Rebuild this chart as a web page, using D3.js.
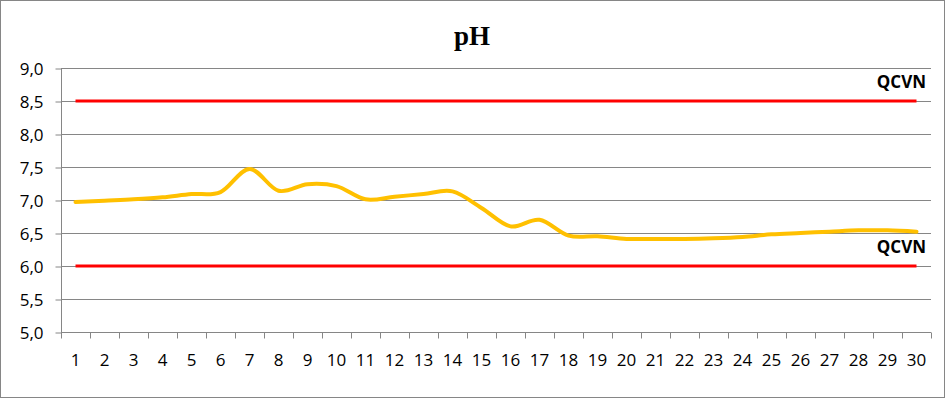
<!DOCTYPE html>
<html>
<head>
<meta charset="utf-8">
<script src="https://cdn.jsdelivr.net/npm/d3@7"></script>
<style>
  html, body { margin: 0; padding: 0; background: #fff; overflow: hidden; }
  svg { display: block; }
  text { font-family: "Open Sans", "Noto Sans", sans-serif; }
</style>
</head>
<body>
<div id="chart"></div>
<script>
const days = d3.range(1, 31);
const phValues = [6.97, 6.99, 7.01, 7.04, 7.09, 7.12, 7.47, 7.14, 7.24, 7.21,
  7.01, 7.05, 7.09, 7.13, 6.88, 6.60, 6.70, 6.46, 6.45, 6.41,
  6.41, 6.41, 6.42, 6.44, 6.48, 6.50, 6.52, 6.54, 6.54, 6.52];
const qcvnMax = 8.5;
const qcvnMin = 6.0;
const yTicks = [5.0, 5.5, 6.0, 6.5, 7.0, 7.5, 8.0, 8.5, 9.0];

const width = 945, height = 398;
const margin = {top: 68, right: 14, bottom: 66, left: 61};
const innerWidth = 931 - margin.left;
const innerHeight = 332 - margin.top;

const svg = d3.select("#chart").append("svg")
    .attr("width", width)
    .attr("height", height);

svg.append("rect")
    .attr("x", 0.5).attr("y", 0.5)
    .attr("width", width - 1).attr("height", height - 1)
    .attr("fill", "#fff")
    .attr("stroke", "#868686");

svg.append("text")
    .attr("x", 472).attr("y", 45)
    .attr("text-anchor", "middle")
    .style("font-family", "'Liberation Serif', serif")
    .style("font-weight", "bold")
    .style("font-size", "27px")
    .text("pH");

const g = svg.append("g")
    .attr("transform", "translate(" + margin.left + "," + margin.top + ")");

const xScale = d3.scaleBand().domain(days).range([0, innerWidth]);
const yScale = d3.scaleLinear().domain([5, 9]).range([innerHeight, 0]);
const xMid = d => xScale(d) + xScale.bandwidth() / 2;

// gridlines
g.selectAll(".grid").data(yTicks.slice(1)).enter().append("line")
    .attr("class", "grid")
    .attr("x1", 0).attr("x2", innerWidth)
    .attr("y1", d => Math.round(yScale(d)) + 0.5)
    .attr("y2", d => Math.round(yScale(d)) + 0.5)
    .attr("stroke", "#868686");

// y axis
const yAxis = g.append("g")
    .attr("transform", "translate(0.5,0.5)")
    .call(d3.axisLeft(yScale).tickValues(yTicks).tickSize(6).tickPadding(12)
      .tickFormat(d => d3.format(".1f")(d).replace(".", ",")));
yAxis.attr("font-family", null).attr("font-size", null);
yAxis.select(".domain").attr("stroke", "#868686").attr("d", "M0," + innerHeight + "V0");
yAxis.selectAll(".tick line").attr("stroke", "#868686");
yAxis.selectAll("text").style("font-size", "17px").attr("fill", "#000").attr("dy", "0.36em");

// x axis
const xAxis = g.append("g")
    .attr("transform", "translate(0," + (innerHeight + 0.5) + ")");
xAxis.append("line")
    .attr("x1", 0).attr("x2", innerWidth)
    .attr("stroke", "#868686");
xAxis.selectAll(".xtick").data(d3.range(0, 31)).enter().append("line")
    .attr("x1", i => Math.round(i * xScale.step()) + 0.5)
    .attr("x2", i => Math.round(i * xScale.step()) + 0.5)
    .attr("y1", 0).attr("y2", 6)
    .attr("stroke", "#868686");
xAxis.selectAll(".xlabel").data(days).enter().append("text")
    .attr("x", d => xMid(d))
    .attr("y", 33)
    .attr("text-anchor", "middle")
    .style("font-size", "17px")
    .text(d => d);

// QCVN limit lines
const limits = [qcvnMax, qcvnMin];
g.selectAll(".qcvn").data(limits).enter().append("line")
    .attr("x1", xMid(days[0]))
    .attr("x2", xMid(days[days.length - 1]))
    .attr("y1", d => yScale(d))
    .attr("y2", d => yScale(d))
    .attr("stroke", "#ff0000")
    .attr("stroke-width", 3);
g.selectAll(".qcvnLabel").data(limits).enter().append("text")
    .attr("x", 865)
    .attr("y", d => yScale(d) - 13)
    .attr("text-anchor", "end")
    .style("font-size", "17px")
    .style("font-weight", "bold")
    .text("QCVN");

// pH line
const line = d3.line()
    .x((d, i) => xMid(days[i]))
    .y(d => yScale(d))
    .curve(d3.curveCatmullRom.alpha(0));
g.append("path")
    .datum(phValues)
    .attr("d", line)
    .attr("fill", "none")
    .attr("stroke", "#ffc000")
    .attr("stroke-width", 4)
    .attr("stroke-linecap", "round");
</script>
</body>
</html>
